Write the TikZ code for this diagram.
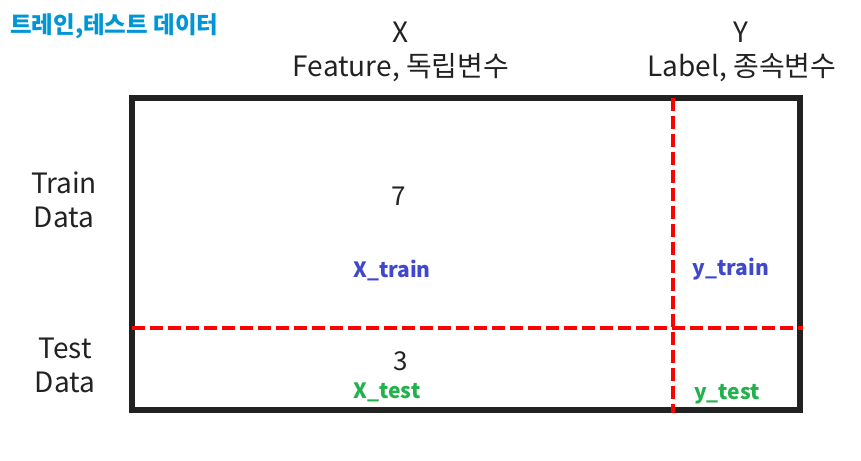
\documentclass[tikz,border=0pt]{standalone}
\usepackage{fontspec}
\setmainfont{Noto Sans CJK KR}
\definecolor{txt}{HTML}{222222}
\definecolor{ttl}{HTML}{0096D6}
\definecolor{bl}{HTML}{3F48CC}
\definecolor{gr}{HTML}{22B14C}
\definecolor{rd}{HTML}{FF0000}
\tikzset{
  lbl/.style={anchor=base,text=txt,font=\fontsize{28}{32}\selectfont,inner sep=0},
  num/.style={anchor=base,text=txt,font=\fontsize{26}{30}\selectfont,inner sep=0},
  blu/.style={anchor=base,text=bl,font=\bfseries\fontsize{21}{26}\selectfont,inner sep=0},
  grn/.style={anchor=base,text=gr,font=\bfseries\fontsize{21}{26}\selectfont,inner sep=0},
  splitline/.style={draw=rd,line width=4pt,dash pattern=on 13pt off 5pt},
  frame/.style={draw=txt,line width=6pt}
}
\begin{document}
\begin{tikzpicture}[x=1pt,y=-1pt]
\useasboundingbox (0,0) rectangle (861,460);
\node[anchor=base west,text=ttl,font=\bfseries\fontsize{23.5}{28}\selectfont,inner sep=0] (title) at (10,34) {트레인,테스트 데이터};
\node[lbl] (xh) at (401,43) {X};
\node[lbl] (xf) at (401,77) {Feature, 독립변수};
\node[lbl] (yh) at (741,43) {Y};
\node[lbl] (yl) at (742,77) {Label, 종속변수};
\node[lbl] (tr1) at (64,193) {Train};
\node[lbl] (tr2) at (64,227) {Data};
\node[lbl] (te1) at (65,358) {Test};
\node[lbl] (te2) at (65,392) {Data};
\coordinate (hl) at (132,328);
\coordinate (hr) at (803,328);
\coordinate (vt) at (673,98);
\coordinate (vb) at (673,413);
\draw[frame] (132,98) rectangle (800,410);
\draw[splitline] (hl) -- (hr);
\draw[splitline] (vt) -- (vb);
\node[num] (n7) at (399,205) {7};
\node[num] (n3) at (401,370) {3};
\node[blu] (xtr) at (392,277) {X\_train};
\node[blu] (ytr) at (731,275) {y\_train};
\node[grn] (xte) at (387,398) {X\_test};
\node[grn] (yte) at (727,399) {y\_test};
\end{tikzpicture}
\end{document}
